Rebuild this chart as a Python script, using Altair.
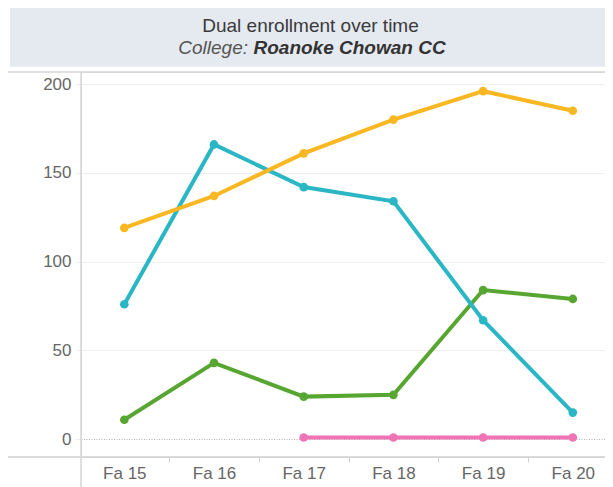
import json
import pandas as pd
import altair as alt

# ---- data ----
terms = ["Fa 15", "Fa 16", "Fa 17", "Fa 18", "Fa 19", "Fa 20"]
series_names = ["Series 1", "Series 2", "Series 3", "Series 4"]
series_colors = ["#EE74B6", "#58A632", "#2AB6C4", "#F9B722"]
values_1 = [None, None, 1, 1, 1, 1]          # pink
values_2 = [11, 43, 24, 25, 84, 79]          # green
values_3 = [76, 166, 142, 134, 67, 15]       # teal
values_4 = [119, 137, 161, 180, 196, 185]    # orange
y_ticks = [0, 50, 100, 150, 200]

title_line = "Dual enrollment over time"
subtitle_label = "College:"
subtitle_value = "Roanoke Chowan CC"

rows = []
for name, vals in zip(series_names, [values_1, values_2, values_3, values_4]):
    for i, v in enumerate(vals):
        if v is not None:
            rows.append({"series": name, "idx": i, "term": terms[i], "value": v})
df = pd.DataFrame(rows)

W, H = 524, 385
FONT = "Liberation Sans, Arial, sans-serif"

label_expr = "datum.value % 1 === 0 ? " + json.dumps(terms) + "[datum.value] : ''"
x_vals = [i * 0.5 for i in range(2 * len(terms) - 1)]

x_enc = alt.X(
    "idx:Q",
    scale=alt.Scale(domain=[-0.483, 5.359], nice=False, zero=False),
    axis=alt.Axis(
        values=x_vals, labelExpr=label_expr, title=None, grid=False, domain=False,
        tickSize=5, tickColor="#cfcfcf",
        tickOpacity={"condition": {"test": "datum.value % 1 === 0", "value": 0}, "value": 1},
        labelFontSize=17, labelColor="#666666", labelPadding=3, labelFont=FONT,
        labelOverlap=False, labelFlush=False, labelBound=False,
    ),
)
y_enc = alt.Y(
    "value:Q",
    scale=alt.Scale(domain=[-10, 206.8], nice=False, zero=False),
    axis=alt.Axis(
        values=y_ticks, title=None, domain=False, grid=True,
        gridColor={"condition": {"test": "datum.value === 0", "value": "#b5b5b5"}, "value": "#efefef"},
        gridDash={"condition": {"test": "datum.value === 0", "value": [1, 1.5]}, "value": []},
        tickSize=5, tickColor="#ececec", labelPadding=5,
        labelFontSize=17, labelColor="#666666", labelFont=FONT,
    ),
)
color_enc = alt.Color("series:N", scale=alt.Scale(domain=series_names, range=series_colors), legend=None)

base = alt.Chart(df)
lines = base.mark_line(strokeWidth=4).encode(x=x_enc, y=y_enc, color=color_enc, detail="series:N")
points = base.mark_circle(size=75, opacity=1).encode(x="idx:Q", y="value:Q", color=color_enc)

one = pd.DataFrame({"k": [0]})
header_box = alt.Chart(one).mark_rect(fill="#E5E9F0").encode(
    x=alt.value(-71), x2=alt.value(W + 8), y=alt.value(-64), y2=alt.value(-5.3)
)
t1 = alt.Chart(pd.DataFrame({"t": [title_line]})).mark_text(
    font=FONT, fontSize=19, color="#3a3a3a", align="center", baseline="alphabetic"
).encode(text="t:N", x=alt.value(229.5), y=alt.value(-40.3))
t2 = alt.Chart(pd.DataFrame({"t": [subtitle_label]})).mark_text(
    font=FONT, fontSize=19, fontStyle="italic", color="#555555", align="right", baseline="alphabetic"
).encode(text="t:N", x=alt.value(167), y=alt.value(-18))
t3 = alt.Chart(pd.DataFrame({"t": [subtitle_value]})).mark_text(
    font=FONT, fontSize=19, fontStyle="italic", fontWeight="bold", color="#333333",
    align="left", baseline="alphabetic"
).encode(text="t:N", x=alt.value(172.5), y=alt.value(-18))

top_line = alt.Chart(one).mark_rule(color="#d6d6d6", strokeWidth=1.5).encode(
    x=alt.value(-79), x2=alt.value(W), y=alt.value(0)
)
bottom_line = alt.Chart(one).mark_rule(color="#d0d0d0", strokeWidth=1.5).encode(
    x=alt.value(-79), x2=alt.value(W), y=alt.value(H)
)
left_line = alt.Chart(one).mark_rule(color="#d6d6d6", strokeWidth=1.5).encode(
    x=alt.value(0), y=alt.value(0), y2=alt.value(H + 30)
)

chart = alt.layer(
    header_box, t1, t2, t3, lines, points, top_line, bottom_line, left_line
).properties(
    width=W, height=H,
    autosize=alt.AutoSizeParams(type="none"),
    padding={"left": 73, "top": 64, "right": 0, "bottom": 30},
).configure_view(stroke=None).configure(font=FONT, background="white")

chart.save("out.html", embed_options={"renderer": "svg", "actions": False})
